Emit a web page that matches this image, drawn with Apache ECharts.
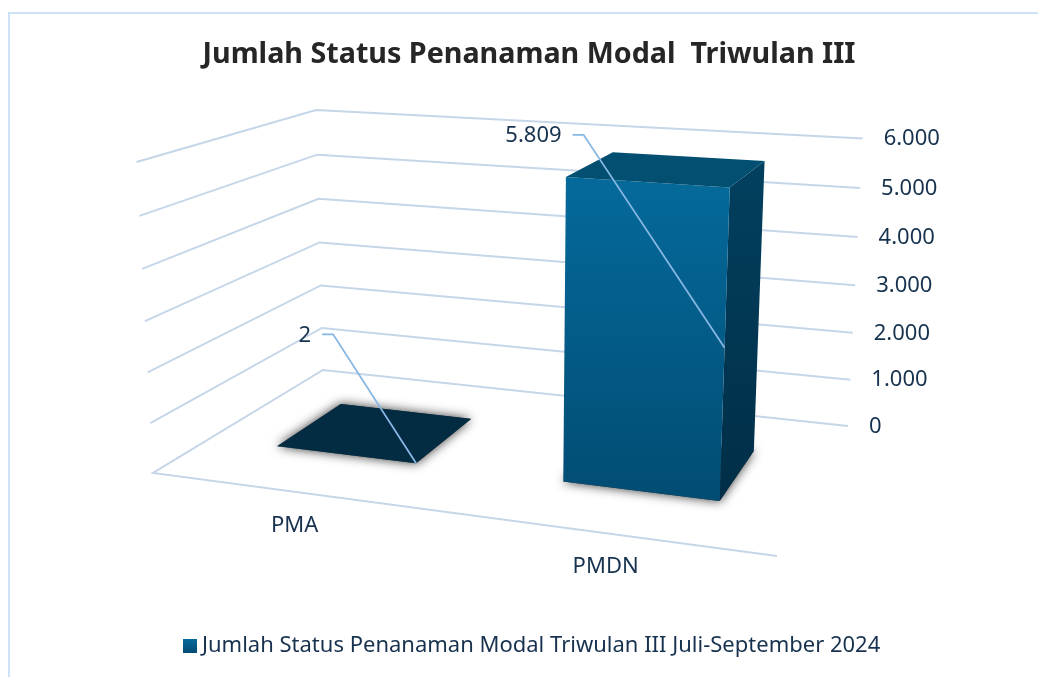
<!DOCTYPE html>
<html>
<head>
<meta charset="utf-8">
<title>Jumlah Status Penanaman Modal Triwulan III</title>
<script src="https://cdn.jsdelivr.net/npm/echarts@6/dist/echarts.min.js"></script>
<style>
  html, body { margin: 0; padding: 0; background: #fff; }
  #chart { width: 1038px; height: 677px; }
</style>
</head>
<body>
<div id="chart"></div>
<script>
const categories = ["PMA", "PMDN"];
const values = [2, 5809];
const valueLabels = ["2", "5.809"];
const tickValues = [0, 1000, 2000, 3000, 4000, 5000, 6000];
const tickLabels = ["0", "1.000", "2.000", "3.000", "4.000", "5.000", "6.000"];
const titleText = "Jumlah Status Penanaman Modal  Triwulan III";
const seriesName = "Jumlah Status Penanaman Modal Triwulan III Juli-September 2024";

// perspective of the 3D box: (u across, w into the depth, t up) -> screen
const cam = {
  x: [531.15, 236.1, -22.5, 153],
  y: [16.56, -27.26, -318.2, 473],
  d: [-0.1195, 0.2047, -0.0445, 1]
};
function project(u, w, t) {
  const q = cam.d[0] * u + cam.d[1] * w + cam.d[2] * t + cam.d[3];
  return [
    (cam.x[0] * u + cam.x[1] * w + cam.x[2] * t + cam.x[3]) / q,
    (cam.y[0] * u + cam.y[1] * w + cam.y[2] * t + cam.y[3]) / q
  ];
}
// grid pixel -> fraction of the plot
function toUnit(params, pt) {
  const c = params.coordSys;
  return [(pt[0] - c.x) / c.width, (c.y + c.height - pt[1]) / c.height];
}

const textColor = "#17324f";
const gridColor = "#c6d6e9";
const leaderColor = "#86b6e4";
const labelFont = "Noto Sans";
const topColors = ["#032c42", "#024f72"];
const frontColor = new echarts.graphic.LinearGradient(0, 0, 0, 1, [
  { offset: 0, color: "#056a9b" },
  { offset: 1, color: "#014c73" }
]);
const sideColor = new echarts.graphic.LinearGradient(0, 0, 0, 1, [
  { offset: 0, color: "#02405f" },
  { offset: 1, color: "#012e47" }
]);
const barHalf = 0.25; // half of the bar, as a share of the category band
const depthFront = 0.3;
const depthBack = 0.7;
const leaderOffset = [[-94, -129], [-152, -213]];

function renderGrid(params, api) {
  const t = toUnit(params, api.coord([0, api.value(0)]))[1];
  const pts = [project(0, 0, t), project(0, 1, t), project(1, 1, t)];
  if (params.dataIndex === 0) pts.unshift(project(1, 0, 0));
  const end = pts[pts.length - 1];
  return {
    type: "group",
    children: [
      {
        type: "polyline",
        shape: { points: pts },
        style: { fill: null, stroke: gridColor, lineWidth: 2 }
      },
      {
        type: "text",
        x: end[0] + 21,
        y: end[1] + 0.5,
        style: {
          text: tickLabels[params.dataIndex],
          fill: textColor,
          font: "22px '" + labelFont + "'",
          align: "left",
          verticalAlign: "middle"
        }
      }
    ]
  };
}

function renderBar(params, api) {
  const i = api.value(0);
  const cx = toUnit(params, api.coord([i, 0]))[0];
  const half = barHalf * api.size([1, 0])[0] / params.coordSys.width;
  const t = toUnit(params, api.coord([i, api.value(1)]))[1];
  const u0 = cx - half, u1 = cx + half;
  const poly = function (pts, fill, extra) {
    return {
      type: "polygon",
      shape: { points: pts },
      style: Object.assign({ fill: fill }, extra || {})
    };
  };
  return {
    type: "group",
    children: [
      poly([project(u0, depthFront, 0), project(u1, depthFront, 0), project(u1, depthBack, 0), project(u0, depthBack, 0)],
        "#333", { shadowBlur: 11, shadowColor: "rgba(0,0,0,0.8)" }),
      poly([project(u1, depthFront, 0), project(u1, depthBack, 0), project(u1, depthBack, t), project(u1, depthFront, t)], sideColor),
      poly([project(u0, depthFront, 0), project(u1, depthFront, 0), project(u1, depthFront, t), project(u0, depthFront, t)], frontColor),
      poly([project(u0, depthFront, t), project(u1, depthFront, t), project(u1, depthBack, t), project(u0, depthBack, t)], topColors[i])
    ]
  };
}

function renderLeader(params, api) {
  const i = api.value(0);
  const cx = toUnit(params, api.coord([i, 0]))[0];
  const half = barHalf * api.size([1, 0])[0] / params.coordSys.width;
  const t = toUnit(params, api.coord([i, api.value(1)]))[1];
  const end = project(cx + half, depthFront, t / 2);
  const start = [end[0] + leaderOffset[i][0], end[1] + leaderOffset[i][1]];
  const elbow = [start[0] + 11, start[1]];
  return {
    type: "group",
    children: [
      {
        type: "polyline",
        shape: { points: [start, elbow, end] },
        style: { fill: null, stroke: leaderColor, lineWidth: 1.8 }
      },
      {
        type: "text",
        x: start[0] - 11,
        y: start[1] + 1,
        style: {
          text: valueLabels[i],
          fill: textColor,
          font: "22px '" + labelFont + "'",
          align: "right",
          verticalAlign: "middle"
        }
      }
    ]
  };
}

function renderCategory(params, api) {
  const i = api.value(0);
  const cx = toUnit(params, api.coord([i, 0]))[0];
  const p = project(cx, 0, 0);
  return {
    type: "text",
    x: p[0],
    y: p[1] + 34,
    style: {
      text: categories[i],
      fill: textColor,
      font: "22px '" + labelFont + "'",
      align: "center",
      verticalAlign: "middle"
    }
  };
}

const chart = echarts.init(document.getElementById("chart"), null, { renderer: "canvas" });
chart.setOption({
  animation: false,
  backgroundColor: "#fff",
  title: {
    text: titleText,
    left: 524,
    top: 35,
    textAlign: "center",
    textStyle: { color: "#262626", fontFamily: "Noto Sans", fontWeight: 700, fontSize: 28.7 }
  },
  legend: {
    data: [seriesName],
    left: 183,
    top: 635,
    padding: 0,
    icon: "rect",
    itemWidth: 14,
    itemHeight: 14,
    textStyle: { color: textColor, fontFamily: labelFont, fontSize: 22 }
  },
  tooltip: { show: false },
  grid: { left: 100, right: 100, top: 100, bottom: 100 },
  xAxis: { type: "category", data: categories, show: false },
  yAxis: { type: "value", min: 0, max: 6000, interval: 1000, show: false },
  graphic: [
    {
      type: "polyline",
      shape: { points: [[9, 677], [9, 13], [1038, 13]] },
      style: { fill: null, stroke: "#cfe1f7", lineWidth: 2 }
    }
  ],
  series: [
    {
      type: "custom",
      name: "grid",
      renderItem: renderGrid,
      data: tickValues.map(function (v) { return [v]; }),
      encode: { x: -1, y: 0 },
      silent: true,
      z: 1
    },
    {
      type: "custom",
      name: seriesName,
      renderItem: renderBar,
      data: values.map(function (v, i) { return [i, v]; }),
      encode: { x: 0, y: 1 },
      itemStyle: { color: frontColor },
      silent: true,
      z: 2
    },
    {
      type: "custom",
      name: "labels",
      renderItem: renderLeader,
      data: values.map(function (v, i) { return [i, v]; }),
      encode: { x: 0, y: 1 },
      silent: true,
      z: 3
    },
    {
      type: "custom",
      name: "categories",
      renderItem: renderCategory,
      data: categories.map(function (c, i) { return [i]; }),
      encode: { x: 0 },
      silent: true,
      z: 3
    }
  ]
});
</script>
</body>
</html>
